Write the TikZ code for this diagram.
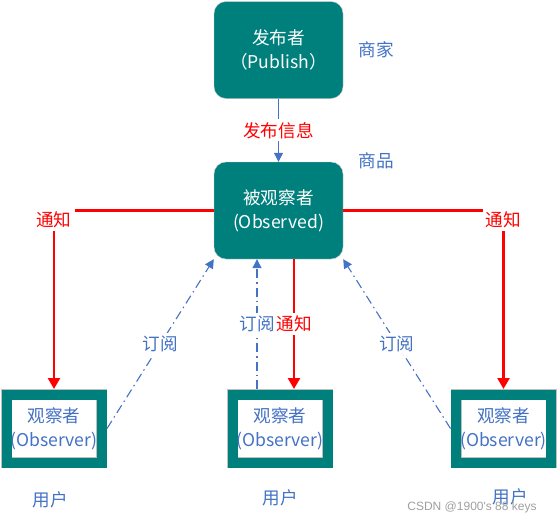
\documentclass[tikz,border=0pt]{standalone}
\usepackage{fontspec}
\setmainfont{Noto Sans CJK SC}
\newfontfamily\markfont{Liberation Sans}
\usetikzlibrary{arrows.meta}
\definecolor{boxteal}{RGB}{0,128,124}
\definecolor{subblue}{RGB}{68,114,196}
\definecolor{notered}{RGB}{255,0,0}
\begin{document}
\begin{tikzpicture}[
  x=1pt, y=-1pt,
  every node/.style={font=\fontsize{17.6}{24}\selectfont, align=center, inner sep=1pt},
  actor/.style={rounded corners=12pt, fill=boxteal, draw=gray!40, text=white,
    minimum width=129pt, minimum height=97pt},
  watcher/.style={fill=white, draw=gray!50, double=boxteal, double distance=10pt,
    line width=0.5pt, text=subblue, minimum width=95pt, minimum height=68pt, outer sep=5.5pt},
  note/.style={text=subblue},
  tag/.style={fill=white, inner sep=3pt},
  notify/.style={draw=notered, line width=2.5pt, -{Triangle[length=11pt,width=12pt]}},
  subscribe/.style={draw=subblue, line width=1.1pt, dash pattern=on 9pt off 4pt on 1.5pt off 4pt,
    -{Triangle[length=9pt,width=9pt]}}
]
  \useasboundingbox (0,0) rectangle (557,523);

  \node[actor] (pub)  at (278.5,50)    {发布者\\（Publish）};
  \node[actor] (subj) at (278.5,210.5) {被观察者\\(Observed)};
  \node[watcher] (obsL) at (54,428.5)    {观察者\\(Observer)};
  \node[watcher] (obsM) at (280,428.5)   {观察者\\(Observer)};
  \node[watcher] (obsR) at (503.5,428.5) {观察者\\(Observer)};

  \node[note] (shop)  at (376,50)  {商家};
  \node[note] (goods) at (376,161) {商品};
  \node[note] (userL) at (50,500)  {用户};
  \node[note] (userM) at (280,498) {用户};
  \node[note] (userR) at (510,497) {用户};
  \node[text=gray!75, font=\markfont\fontsize{12}{14}\selectfont] (mark) at (472,507) {CSDN @1900's 88 keys};

  % publish
  \draw[draw=subblue, line width=1.1pt, -{Triangle[length=9pt,width=9pt]}]
    (pub) -- node[tag, text=notered] {发布信息} (subj);

  % notify
  \draw[notify] (subj.west) -| node[tag, text=notered, pos=0.525] {通知} (obsL.north);
  \draw[notify] (subj.east) -| node[tag, text=notered, pos=0.525] {通知} (obsR.north);
  \draw[notify] ([xshift=15.5pt]subj.south) --
    node[tag, text=notered, inner xsep=1pt] {通知} ([xshift=15.5pt]subj.south |- obsM.north);

  % subscribe
  \draw[subscribe] (obsL.east) -- node[tag, text=subblue] {订阅} (subj.south west);
  \draw[subscribe] (obsR.west) -- node[tag, text=subblue] {订阅} (subj.south east);
  \draw[subscribe] ([xshift=-23pt]obsM.north) --
    node[tag, text=subblue, inner xsep=1pt] {订阅} ([xshift=-23pt]obsM.north |- subj.south);
\end{tikzpicture}
\end{document}
